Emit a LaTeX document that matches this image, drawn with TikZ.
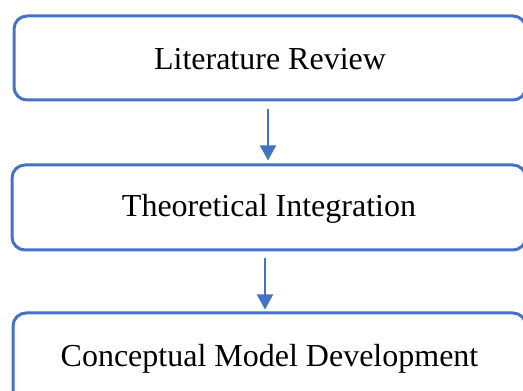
\documentclass[tikz,border=0pt]{standalone}
\usepackage{fontspec}
\setmainfont{Liberation Serif}
\usetikzlibrary{arrows.meta}
\definecolor{boxblue}{HTML}{4472C4}
\begin{document}
\begin{tikzpicture}[x=1pt,y=1pt,
  stagebox/.style={draw=boxblue, line width=3pt, rounded corners=13pt, inner sep=0pt,
    font=\fontsize{32}{36}\selectfont, text=black},
  flowarrow/.style={draw=boxblue, line width=1.6pt, -{Triangle[width=16pt,length=15pt]}}]
\useasboundingbox (0,0) rectangle (523,391);
\clip (0,0) rectangle (523,391);
\node[stagebox, minimum width=512pt, minimum height=84pt, text height=24pt, text depth=0pt] (b1) at (270,333) {Literature Review};
\node[stagebox, minimum width=514pt, minimum height=85pt, text height=26pt, text depth=7pt] (b2) at (269,183.5) {Theoretical Integration};
\node[stagebox, minimum width=513pt, minimum height=93pt, text height=22pt, text depth=7pt] (b3) at (269.5,31.5) {Conceptual Model Development};
\draw[flowarrow, shorten <=8pt, shorten >=3pt] ([xshift=-2pt]b1.south) -- ([xshift=-2pt]b1.south |- b2.north);
\draw[flowarrow, shorten <=7pt, shorten >=2pt] ([xshift=-4pt]b2.south) -- ([xshift=-4pt]b2.south |- b3.north);
\end{tikzpicture}
\end{document}
